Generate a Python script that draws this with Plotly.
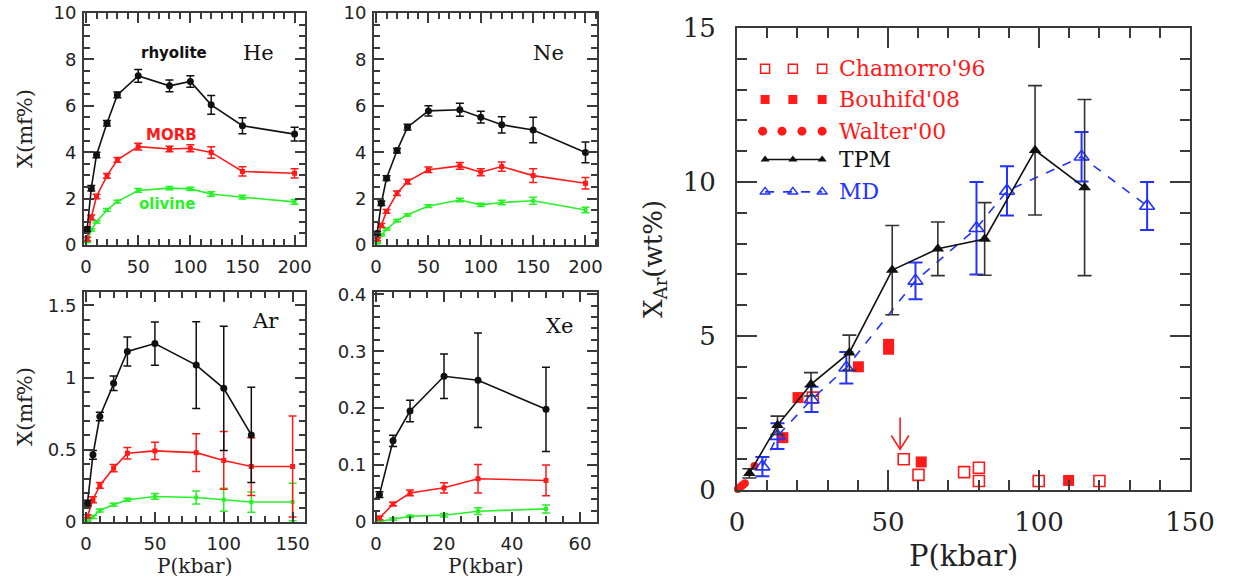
import plotly.graph_objects as go

# ---------------- data ----------------
P_HE = [1, 5, 10, 20, 30, 50, 80, 100, 120, 150, 200]
HE_RHY = [0.68, 2.45, 3.88, 5.25, 6.47, 7.29, 6.86, 7.05, 6.04, 5.14, 4.78]
HE_RHY_ERR = [0.1, 0.12, 0.12, 0.12, 0.12, 0.28, 0.25, 0.25, 0.4, 0.35, 0.3]
HE_MORB = [0.25, 1.19, 2.09, 2.98, 3.67, 4.24, 4.14, 4.17, 3.99, 3.17, 3.09]
HE_MORB_ERR = [0.08, 0.1, 0.1, 0.1, 0.1, 0.15, 0.12, 0.15, 0.25, 0.2, 0.2]
HE_OLI = [0.15, 0.65, 1.0, 1.51, 1.87, 2.35, 2.45, 2.42, 2.2, 2.06, 1.86]
HE_OLI_ERR = [0.04, 0.05, 0.05, 0.06, 0.06, 0.08, 0.07, 0.07, 0.1, 0.08, 0.1]

P_NE = [1, 5, 10, 20, 30, 50, 80, 100, 120, 150, 200]
NE_RHY = [0.5, 1.8, 2.88, 4.07, 5.08, 5.78, 5.83, 5.51, 5.18, 4.96, 3.99]
NE_RHY_ERR = [0.08, 0.1, 0.1, 0.1, 0.12, 0.22, 0.28, 0.25, 0.35, 0.55, 0.45]
NE_MORB = [0.25, 0.85, 1.45, 2.23, 2.73, 3.24, 3.41, 3.14, 3.38, 2.99, 2.66]
NE_MORB_ERR = [0.06, 0.08, 0.08, 0.1, 0.1, 0.12, 0.15, 0.15, 0.2, 0.3, 0.25]
NE_OLI = [0.1, 0.43, 0.68, 1.05, 1.3, 1.68, 1.94, 1.73, 1.83, 1.91, 1.51]
NE_OLI_ERR = [0.03, 0.04, 0.04, 0.05, 0.05, 0.06, 0.08, 0.07, 0.1, 0.15, 0.12]

P_AR = [1, 5, 10, 20, 30, 50, 80, 100, 120, 150]
AR_RHY = [0.13, 0.465, 0.73, 0.96, 1.18, 1.235, 1.086, 0.925, 0.603]
AR_RHY_ERR = [0.02, 0.03, 0.03, 0.05, 0.1, 0.15, 0.3, 0.43, 0.33]
AR_MORB = [0.04, 0.154, 0.253, 0.373, 0.476, 0.492, 0.48, 0.426, 0.384, 0.384]
AR_MORB_ERR = [0.01, 0.02, 0.02, 0.025, 0.04, 0.06, 0.13, 0.2, 0.2, 0.35]
AR_OLI = [0.01, 0.035, 0.08, 0.12, 0.154, 0.177, 0.17, 0.154, 0.138, 0.138]
AR_OLI_ERR = [0.005, 0.01, 0.01, 0.01, 0.01, 0.02, 0.045, 0.08, 0.07, 0.13]

P_XE = [1, 5, 10, 20, 30, 50]
XE_RHY = [0.048, 0.1425, 0.195, 0.256, 0.249, 0.198]
XE_RHY_ERR = [0.005, 0.01, 0.019, 0.039, 0.083, 0.074]
XE_MORB = [0.007, 0.0315, 0.051, 0.06, 0.076, 0.073]
XE_MORB_ERR = [0.003, 0.003, 0.005, 0.009, 0.025, 0.027]
XE_OLI = [0.001, 0.005, 0.01, 0.012, 0.019, 0.023]
XE_OLI_ERR = [0.001, 0.002, 0.002, 0.003, 0.006, 0.007]

TPM_P = [4.1, 13.4, 24.5, 37.2, 51.4, 66.5, 82.0, 98.7, 115.1]
TPM_X = [0.54, 2.1, 3.43, 4.46, 7.14, 7.83, 8.15, 11.03, 9.82]
TPM_ERR = [0.15, 0.3, 0.38, 0.57, 1.45, 0.87, 1.18, 2.1, 2.86]

MD_P = [8.4, 13.4, 24.7, 36.2, 59.1, 79.3, 89.4, 114.1, 135.8]
MD_X = [0.76, 1.75, 2.94, 3.97, 6.79, 8.5, 9.71, 10.82, 9.22]
MD_ERR = [0.31, 0.42, 0.41, 0.51, 0.6, 1.5, 0.8, 0.8, 0.78]

CHAM_P = [25.1, 55.2, 60.1, 75.2, 80.1, 80.1, 99.9, 120.0]
CHAM_X = [3.0, 1.0, 0.49, 0.58, 0.72, 0.29, 0.29, 0.29]
BOUH_P = [15.2, 20.2, 40.2, 50.2, 50.2, 61.0, 109.8]
BOUH_X = [1.7, 3.0, 4.0, 4.73, 4.57, 0.91, 0.31]
WALT_P = [0.3, 0.8, 1.4, 2.0, 2.6, 5.8]
WALT_X = [0.03, 0.07, 0.12, 0.17, 0.22, 0.78]

SERIES_NAMES = ["rhyolite", "MORB", "olivine"]
LEGEND_NAMES = ["Chamorro'96", "Bouhifd'08", "Walter'00", "TPM", "MD"]

# ---------------- styling / layout constants ----------------
W, H = 1238, 584
AXC = "#3a3a3a"
BLACK, RED, GREEN, BLUE = "#111111", "#ff1a1a", "#2af02a", "#2233ff"
SANS = "DejaVu Sans"
SERIF = "DejaVu Serif"


def px_dom(a, b, total):
    return [a / total, b / total]


def py_dom(top, bottom):
    return [1 - bottom / H, 1 - top / H]


fig = go.Figure()


def add_series(xs, ys, errs, color, symbol, size, xa, ya, cap=4):
    fig.add_trace(go.Scatter(
        x=xs[:len(ys)], y=ys, mode="lines+markers",
        line=dict(color=color, width=1.6),
        marker=dict(color=color, symbol=symbol, size=size),
        error_y=dict(type="data", array=errs, color=color, thickness=1.5, width=cap),
        xaxis=xa, yaxis=ya, showlegend=False, cliponaxis=False))


panels = [
    ("x", "y", P_HE, (HE_RHY, HE_RHY_ERR), (HE_MORB, HE_MORB_ERR), (HE_OLI, HE_OLI_ERR)),
    ("x2", "y2", P_NE, (NE_RHY, NE_RHY_ERR), (NE_MORB, NE_MORB_ERR), (NE_OLI, NE_OLI_ERR)),
    ("x3", "y3", P_AR, (AR_RHY, AR_RHY_ERR), (AR_MORB, AR_MORB_ERR), (AR_OLI, AR_OLI_ERR)),
    ("x4", "y4", P_XE, (XE_RHY, XE_RHY_ERR), (XE_MORB, XE_MORB_ERR), (XE_OLI, XE_OLI_ERR)),
]
for xa, ya, P, rhy, morb, oli in panels:
    add_series(P, oli[0], oli[1], GREEN, "square", 4, xa, ya)
    add_series(P, morb[0], morb[1], RED, "square", 5, xa, ya)
    add_series(P, rhy[0], rhy[1], BLACK, "circle", 7, xa, ya)

# ---- right panel ----
fig.add_trace(go.Scatter(x=CHAM_P, y=CHAM_X, mode="markers",
                         marker=dict(symbol="square-open", size=11, color=RED, line=dict(width=1.6)),
                         xaxis="x5", yaxis="y5", showlegend=False, cliponaxis=False))
fig.add_trace(go.Scatter(x=BOUH_P, y=BOUH_X, mode="markers",
                         marker=dict(symbol="square", size=11, color=RED),
                         xaxis="x5", yaxis="y5", showlegend=False, cliponaxis=False))
fig.add_trace(go.Scatter(x=WALT_P, y=WALT_X, mode="markers",
                         marker=dict(symbol="circle", size=8, color=RED),
                         xaxis="x5", yaxis="y5", showlegend=False, cliponaxis=False))
fig.add_trace(go.Scatter(x=MD_P, y=MD_X, mode="lines+markers",
                         line=dict(color=BLUE, width=1.6, dash="dash"),
                         marker=dict(symbol="triangle-up-open", size=13, color=BLUE, line=dict(width=1.6)),
                         error_y=dict(type="data", array=MD_ERR, color=BLUE, thickness=2, width=7),
                         xaxis="x5", yaxis="y5", showlegend=False, cliponaxis=False))
fig.add_trace(go.Scatter(x=TPM_P, y=TPM_X, mode="lines+markers",
                         line=dict(color=BLACK, width=1.6),
                         marker=dict(symbol="triangle-up", size=11, color=BLACK),
                         error_y=dict(type="data", array=TPM_ERR, color="#333333", thickness=1.6, width=7),
                         xaxis="x5", yaxis="y5", showlegend=False, cliponaxis=False))

# ---- custom in-plot legend (positions are layout, in data units of panel 5) ----
LEG_MX = [9.3, 18.5, 28.2]
LEG_WX = [8.5, 14.9, 21.5, 28.2]
LEG_Y = [13.68, 12.68, 11.65, 10.73, 9.68]
LEG_TX = 33.0
fig.add_trace(go.Scatter(x=LEG_MX, y=[LEG_Y[0]] * 3, mode="markers",
                         marker=dict(symbol="square-open", size=9, color=RED, line=dict(width=1.5)),
                         xaxis="x5", yaxis="y5", showlegend=False))
fig.add_trace(go.Scatter(x=LEG_MX, y=[LEG_Y[1]] * 3, mode="markers",
                         marker=dict(symbol="square", size=9, color=RED),
                         xaxis="x5", yaxis="y5", showlegend=False))
fig.add_trace(go.Scatter(x=LEG_WX, y=[LEG_Y[2]] * 4, mode="markers",
                         marker=dict(symbol="circle", size=9, color=RED),
                         xaxis="x5", yaxis="y5", showlegend=False))
fig.add_trace(go.Scatter(x=LEG_MX, y=[LEG_Y[3]] * 3, mode="lines+markers",
                         line=dict(color=BLACK, width=1.6),
                         marker=dict(symbol="triangle-up", size=8, color=BLACK),
                         xaxis="x5", yaxis="y5", showlegend=False))
fig.add_trace(go.Scatter(x=LEG_MX, y=[LEG_Y[4]] * 3, mode="lines+markers",
                         line=dict(color=BLUE, width=1.6, dash="dash"),
                         marker=dict(symbol="triangle-up-open", size=9, color=BLUE, line=dict(width=1.5)),
                         xaxis="x5", yaxis="y5", showlegend=False))
leg_colors = [RED, RED, RED, BLACK, BLUE]
annotations = []
for name, yy, c in zip(LEGEND_NAMES, LEG_Y, leg_colors):
    annotations.append(dict(x=LEG_TX, y=yy, xref="x5", yref="y5", text=name, showarrow=False,
                            xanchor="left", yanchor="middle", font=dict(family=SERIF, size=22, color=c)))

# red arrow (pointing down to the Chamorro point)
ARROW_X, ARROW_TOP, ARROW_TIP = 54.0, 2.35, 1.32
shapes = [
    dict(type="line", xref="x5", yref="y5", x0=ARROW_X, x1=ARROW_X, y0=ARROW_TOP, y1=ARROW_TIP,
         line=dict(color=RED, width=1.6)),
    dict(type="path", xref="x5", yref="y5",
         path=f"M {ARROW_X-2.9},{ARROW_TIP+0.45} L {ARROW_X},{ARROW_TIP} L {ARROW_X+2.9},{ARROW_TIP+0.45}",
         line=dict(color=RED, width=1.6)),
]

# ---------------- axes ----------------
def axis(rng, dtick, mdtick, domain, anchor, tfont, tlen=10, mlen=6, standoff=4):
    return dict(range=rng, domain=domain, anchor=anchor, showline=True, linecolor=AXC, linewidth=2,
                mirror="allticks", ticks="inside", ticklen=tlen, tickwidth=1.6, tickcolor=AXC,
                tick0=0, dtick=dtick,
                minor=dict(ticks="inside", ticklen=mlen, tickwidth=1.6, tickcolor=AXC, dtick=mdtick,
                           tick0=0, showgrid=False),
                showgrid=False, zeroline=False, tickfont=tfont,
                ticklabelstandoff=standoff, fixedrange=True, automargin=False)


small_font = dict(family=SANS, size=18, color="#222222")
big_font = dict(family=SERIF, size=26, color="#222222")

D_HE_X = px_dom(84, 305, W)
D_NE_X = px_dom(374, 597, W)
D_TOP_Y = py_dom(13, 245)
D_BOT_Y = py_dom(292, 522)
D_R_X = px_dom(737, 1190, W)
D_R_Y = py_dom(28, 490)

layout = dict(
    template="none",
    width=W, height=H, margin=dict(l=0, r=0, t=0, b=0, pad=0, autoexpand=False), autosize=False,
    paper_bgcolor="white", plot_bgcolor="white", showlegend=False,
    xaxis=axis([-2, 210], 50, 10, D_HE_X, "y", small_font, standoff=4),
    yaxis=axis([0, 10], 2, 0.5, D_TOP_Y, "x", small_font, standoff=2),
    xaxis2=axis([-2, 211], 50, 10, D_NE_X, "y2", small_font, standoff=4),
    yaxis2=axis([0, 10], 2, 0.5, D_TOP_Y, "x2", small_font, standoff=2),
    xaxis3=axis([-1.5, 159], 50, 10, D_HE_X, "y3", small_font, standoff=4),
    yaxis3=axis([0, 1.592], 0.5, 0.1, D_BOT_Y, "x3", small_font, standoff=2),
    xaxis4=axis([-0.6, 65], 20, 5, D_NE_X, "y4", small_font, standoff=4),
    yaxis4=axis([0, 0.404], 0.1, 0.02, D_BOT_Y, "x4", small_font, standoff=2),
    xaxis5=axis([0, 150], 50, 10, D_R_X, "y5", big_font, tlen=20, mlen=10, standoff=8),
    yaxis5=axis([0, 15], 5, 1, D_R_Y, "x5", big_font, tlen=20, mlen=10, standoff=14),
)

# panel texts
panel_labels = [("He", "x", "y", 165, 8.28), ("Ne", "x2", "y2", 165, 8.28),
                ("Ar", "x3", "y3", 130, 1.39), ("Xe", "x4", "y4", 54, 0.345)]
for txt, xr, yr, xx, yy in panel_labels:
    annotations.append(dict(x=xx, y=yy, xref=xr, yref=yr, text=txt, showarrow=False,
                            xanchor="center", yanchor="middle",
                            font=dict(family=SERIF, size=21, color="#111111")))

series_labels = [(SERIES_NAMES[0], 84, 8.27, BLACK), (SERIES_NAMES[1], 82, 4.74, RED),
                 (SERIES_NAMES[2], 78, 1.77, GREEN)]
for txt, xx, yy, c in series_labels:
    annotations.append(dict(x=xx, y=yy, xref="x", yref="y", text=f"<b>{txt}</b>", showarrow=False,
                            xanchor="center", yanchor="middle",
                            font=dict(family=SANS, size=15, color=c)))

# axis titles (paper positions, centred on the given pixel)
title_font = dict(family=SERIF, size=20, color="#222222")


def paper_text(text, cx, cy, font, angle=0):
    return dict(x=cx / W, y=1 - cy / H, xref="paper", yref="paper", text=text, textangle=angle,
                showarrow=False, xanchor="center", yanchor="middle", font=font)


for cy in [129, 407]:
    annotations.append(paper_text("X(mf%)", 25, cy, dict(family=SERIF, size=21, color="#222222"), -90))
for cx in [194.5, 485.5]:
    annotations.append(paper_text("P(kbar)", cx, 566, title_font))
annotations.append(paper_text("P(kbar)", 963, 556, dict(family=SERIF, size=29, color="#222222")))
annotations.append(paper_text("X<sub>Ar</sub>(wt%)", 654, 259,
                              dict(family=SERIF, size=26, color="#222222"), -90))

layout["annotations"] = annotations
layout["shapes"] = shapes
fig.update_layout(**layout)

fig.write_html("out.html", config={"displayModeBar": False},
               post_script="document.body.style.margin='0';")
